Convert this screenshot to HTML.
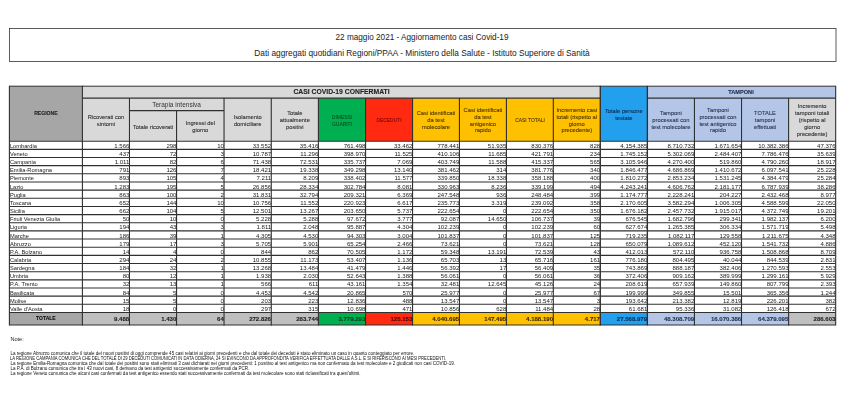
<!DOCTYPE html>
<html><head><meta charset="utf-8"><title>Aggiornamento casi Covid-19</title>
<style>
html,body{margin:0;padding:0;background:#fff;}
body{width:850px;height:413px;position:relative;overflow:hidden;font-family:"Liberation Sans",sans-serif;}
svg{position:absolute;left:0;top:0;}
.t{position:absolute;white-space:nowrap;line-height:1.15;}
.s{-webkit-text-stroke:0.1px currentColor;}
.s2{-webkit-text-stroke:0.07px currentColor;}
#wrap{position:absolute;left:0;top:0;width:850px;height:413px;filter:blur(0.35px);}
</style></head><body><div id="wrap">
<svg width="850" height="413" viewBox="0 0 850 413">
<rect x="9.4" y="28.5" width="826.6" height="32.9" fill="#fff" stroke="#333" stroke-width="0.8"/>
<rect x="9.40" y="86.20" width="73.00" height="55.00" fill="#a6a6a6"/>
<rect x="82.40" y="86.20" width="517.88" height="11.90" fill="#d9d9d9"/>
<rect x="82.40" y="98.10" width="236.00" height="43.10" fill="#d9d9d9"/>
<rect x="318.40" y="98.10" width="47.18" height="43.10" fill="#00b050"/>
<rect x="365.58" y="98.10" width="46.98" height="43.10" fill="#ff2a10"/>
<rect x="412.56" y="98.10" width="187.72" height="43.10" fill="#ffc000"/>
<rect x="600.28" y="86.20" width="47.08" height="55.00" fill="#22a0ed"/>
<rect x="647.36" y="86.20" width="188.32" height="11.90" fill="#b4c6e7"/>
<rect x="647.36" y="98.10" width="141.24" height="43.10" fill="#b4c6e7"/>
<rect x="788.60" y="98.10" width="47.08" height="43.10" fill="#d9d9d9"/>
<rect x="9.40" y="312.45" width="73.00" height="12.55" fill="#a6a6a6"/>
<rect x="82.40" y="312.45" width="236.00" height="12.55" fill="#bfbfbf"/>
<rect x="318.40" y="312.45" width="47.18" height="12.55" fill="#00b050"/>
<rect x="365.58" y="312.45" width="46.98" height="12.55" fill="#ff2a10"/>
<rect x="412.56" y="312.45" width="187.72" height="12.55" fill="#ffc000"/>
<rect x="600.28" y="312.45" width="47.08" height="12.55" fill="#22a0ed"/>
<rect x="647.36" y="312.45" width="141.24" height="12.55" fill="#b4c6e7"/>
<rect x="788.60" y="312.45" width="47.08" height="12.55" fill="#bfbfbf"/>
<line x1="9.40" y1="86.20" x2="835.68" y2="86.20" stroke="#303030" stroke-width="1.0"/>
<line x1="82.40" y1="98.10" x2="600.28" y2="98.10" stroke="#303030" stroke-width="1.05"/>
<line x1="647.36" y1="98.10" x2="835.68" y2="98.10" stroke="#303030" stroke-width="1.05"/>
<line x1="129.48" y1="110.60" x2="224.04" y2="110.60" stroke="#303030" stroke-width="1.05"/>
<line x1="9.40" y1="141.20" x2="835.68" y2="141.20" stroke="#303030" stroke-width="1.1"/>
<line x1="9.40" y1="149.35" x2="835.68" y2="149.35" stroke="#303030" stroke-width="1.1"/>
<line x1="9.40" y1="157.51" x2="835.68" y2="157.51" stroke="#303030" stroke-width="1.1"/>
<line x1="9.40" y1="165.66" x2="835.68" y2="165.66" stroke="#303030" stroke-width="1.1"/>
<line x1="9.40" y1="173.82" x2="835.68" y2="173.82" stroke="#303030" stroke-width="1.1"/>
<line x1="9.40" y1="181.97" x2="835.68" y2="181.97" stroke="#303030" stroke-width="1.1"/>
<line x1="9.40" y1="190.13" x2="835.68" y2="190.13" stroke="#303030" stroke-width="1.1"/>
<line x1="9.40" y1="198.28" x2="835.68" y2="198.28" stroke="#303030" stroke-width="1.1"/>
<line x1="9.40" y1="206.44" x2="835.68" y2="206.44" stroke="#303030" stroke-width="1.1"/>
<line x1="9.40" y1="214.59" x2="835.68" y2="214.59" stroke="#303030" stroke-width="1.1"/>
<line x1="9.40" y1="222.75" x2="835.68" y2="222.75" stroke="#303030" stroke-width="1.1"/>
<line x1="9.40" y1="230.90" x2="835.68" y2="230.90" stroke="#303030" stroke-width="1.1"/>
<line x1="9.40" y1="239.06" x2="835.68" y2="239.06" stroke="#303030" stroke-width="1.1"/>
<line x1="9.40" y1="247.21" x2="835.68" y2="247.21" stroke="#303030" stroke-width="1.1"/>
<line x1="9.40" y1="255.37" x2="835.68" y2="255.37" stroke="#303030" stroke-width="1.1"/>
<line x1="9.40" y1="263.52" x2="835.68" y2="263.52" stroke="#303030" stroke-width="1.1"/>
<line x1="9.40" y1="271.68" x2="835.68" y2="271.68" stroke="#303030" stroke-width="1.1"/>
<line x1="9.40" y1="279.83" x2="835.68" y2="279.83" stroke="#303030" stroke-width="1.1"/>
<line x1="9.40" y1="287.99" x2="835.68" y2="287.99" stroke="#303030" stroke-width="1.1"/>
<line x1="9.40" y1="296.14" x2="835.68" y2="296.14" stroke="#303030" stroke-width="1.1"/>
<line x1="9.40" y1="304.30" x2="835.68" y2="304.30" stroke="#303030" stroke-width="1.1"/>
<line x1="9.40" y1="312.45" x2="835.68" y2="312.45" stroke="#303030" stroke-width="1.1"/>
<line x1="9.40" y1="325.00" x2="835.68" y2="325.00" stroke="#303030" stroke-width="1.1"/>
<line x1="9.40" y1="85.80" x2="9.40" y2="325.40" stroke="#303030" stroke-width="1.1"/>
<line x1="82.40" y1="85.80" x2="82.40" y2="325.40" stroke="#303030" stroke-width="1.1"/>
<line x1="129.48" y1="98.10" x2="129.48" y2="325.40" stroke="#303030" stroke-width="1.1"/>
<line x1="176.56" y1="110.60" x2="176.56" y2="325.40" stroke="#303030" stroke-width="1.1"/>
<line x1="224.04" y1="98.10" x2="224.04" y2="325.40" stroke="#303030" stroke-width="1.1"/>
<line x1="271.27" y1="98.10" x2="271.27" y2="325.40" stroke="#303030" stroke-width="1.1"/>
<line x1="318.40" y1="98.10" x2="318.40" y2="325.40" stroke="#303030" stroke-width="1.1"/>
<line x1="365.58" y1="98.10" x2="365.58" y2="325.40" stroke="#303030" stroke-width="1.1"/>
<line x1="412.56" y1="98.10" x2="412.56" y2="325.40" stroke="#303030" stroke-width="1.1"/>
<line x1="459.44" y1="98.10" x2="459.44" y2="325.40" stroke="#303030" stroke-width="1.1"/>
<line x1="506.42" y1="98.10" x2="506.42" y2="325.40" stroke="#303030" stroke-width="1.1"/>
<line x1="553.30" y1="98.10" x2="553.30" y2="325.40" stroke="#303030" stroke-width="1.1"/>
<line x1="600.28" y1="85.80" x2="600.28" y2="325.40" stroke="#303030" stroke-width="1.35"/>
<line x1="647.36" y1="85.80" x2="647.36" y2="325.40" stroke="#303030" stroke-width="1.35"/>
<line x1="694.44" y1="98.10" x2="694.44" y2="325.40" stroke="#303030" stroke-width="1.1"/>
<line x1="741.52" y1="98.10" x2="741.52" y2="325.40" stroke="#303030" stroke-width="1.1"/>
<line x1="788.60" y1="98.10" x2="788.60" y2="325.40" stroke="#303030" stroke-width="1.1"/>
<line x1="835.68" y1="85.80" x2="835.68" y2="325.40" stroke="#303030" stroke-width="1.1"/>
</svg>
<div class="t " style="color:#222;font-size:8.2px;left:422.00px;top:38.40px;transform:translate(-50%,-50%);text-align:center;">22 maggio 2021 - Aggiornamento casi Covid-19</div>
<div class="t " style="color:#222;font-size:8.32px;left:422.00px;top:54.40px;transform:translate(-50%,-50%);text-align:center;">Dati aggregati quotidiani Regioni/PPAA - Ministero della Salute - Istituto Superiore di Sanit&agrave;</div>
<div class="t s" style="color:#222;font-weight:bold;font-size:5.1px;left:45.90px;top:113.60px;transform:translate(-50%,-50%);text-align:center;">REGIONE</div>
<div class="t s" style="color:#222;font-weight:bold;font-size:6.8px;left:341.50px;top:92.20px;transform:translate(-50%,-50%);text-align:center;">CASI COVID-19 CONFERMATI</div>
<div class="t s" style="color:#1f2a44;font-weight:bold;font-size:5.6px;left:741.00px;top:92.20px;transform:translate(-50%,-50%);text-align:center;">TAMPONI</div>
<div class="t " style="color:#333;font-size:6.5px;left:176.56px;top:105.20px;transform:translate(-50%,-50%);text-align:center;">Terapia intensiva</div>
<div class="t s" style="color:#2e2e2e;line-height:7.0px;font-size:5.75px;left:105.94px;top:121.05px;transform:translate(-50%,-50%);text-align:center;">Ricoverati con<br>sintomi</div>
<div class="t s" style="color:#2e2e2e;line-height:7.0px;font-size:5.75px;left:153.02px;top:126.60px;transform:translate(-50%,-50%);text-align:center;">Totale ricoverati</div>
<div class="t s" style="color:#2e2e2e;line-height:7.0px;font-size:5.75px;left:200.30px;top:127.30px;transform:translate(-50%,-50%);text-align:center;">Ingressi del<br>giorno</div>
<div class="t s" style="color:#2e2e2e;line-height:7.0px;font-size:5.75px;left:247.66px;top:121.05px;transform:translate(-50%,-50%);text-align:center;">Isolamento<br>domiciliare</div>
<div class="t s" style="color:#2e2e2e;line-height:7.05px;font-size:5.75px;left:294.84px;top:121.05px;transform:translate(-50%,-50%);text-align:center;">Totale<br>attualmente<br>positivi</div>
<div class="t s" style="color:#0a4f1c;line-height:7.0px;font-size:5.6px;left:341.99px;top:121.05px;transform:translate(-50%,-50%) scaleX(0.88);text-align:center;">DIMESSI<br>GUARITI</div>
<div class="t s" style="color:#7d0606;line-height:7.0px;font-size:5.6px;left:389.07px;top:120.35px;transform:translate(-50%,-50%) scaleX(0.88);text-align:center;">DECEDUTI</div>
<div class="t s" style="color:#4d3600;line-height:7.05px;font-size:5.75px;left:436.00px;top:121.05px;transform:translate(-50%,-50%);text-align:center;">Casi identificati<br>da test<br>molecolare</div>
<div class="t s" style="color:#4d3600;line-height:6.6px;font-size:5.75px;left:482.93px;top:120.35px;transform:translate(-50%,-50%);text-align:center;">Casi identificati<br>da test<br>antigenico<br>rapido</div>
<div class="t s" style="color:#4d3600;line-height:7.0px;font-size:5.6px;left:529.86px;top:120.35px;transform:translate(-50%,-50%) scaleX(0.88);text-align:center;">CASI TOTALI</div>
<div class="t s" style="color:#4d3600;line-height:6.6px;font-size:5.75px;left:576.79px;top:120.35px;transform:translate(-50%,-50%);text-align:center;">Incremento casi<br>totali (rispetto al<br>giorno<br>precedente)</div>
<div class="t s" style="color:#0b2a55;line-height:7.0px;font-size:5.75px;left:623.82px;top:114.50px;transform:translate(-50%,-50%);text-align:center;">Totale persone<br>testate</div>
<div class="t s" style="color:#2a3350;line-height:7.05px;font-size:5.75px;left:670.90px;top:121.05px;transform:translate(-50%,-50%);text-align:center;">Tamponi<br>processati con<br>test molecolare</div>
<div class="t s" style="color:#2a3350;line-height:6.6px;font-size:5.75px;left:717.98px;top:120.35px;transform:translate(-50%,-50%);text-align:center;">Tamponi<br>processati con<br>test antigenico<br>rapido</div>
<div class="t s" style="color:#2a3350;line-height:7.05px;font-size:5.75px;left:765.06px;top:121.05px;transform:translate(-50%,-50%);text-align:center;">TOTALE<br>tamponi<br>effettuati</div>
<div class="t s" style="color:#2e2e2e;line-height:6.8px;font-size:5.75px;left:812.14px;top:120.35px;transform:translate(-50%,-50%);text-align:center;">Incremento<br>tamponi totali<br>(rispetto al<br>giorno<br>precedente)</div>
<div class="t " style="color:#222;font-size:5.7px;left:9.95px;top:145.83px;transform:translate(0,-50%);text-align:left;">Lombardia</div>
<div class="t " style="color:#222;font-size:6.05px;right:720.62px;top:145.83px;transform:translate(0,-50%);text-align:right;">1.566</div>
<div class="t " style="color:#222;font-size:6.05px;right:673.54px;top:145.83px;transform:translate(0,-50%);text-align:right;">298</div>
<div class="t " style="color:#222;font-size:6.05px;right:626.06px;top:145.83px;transform:translate(0,-50%);text-align:right;">10</div>
<div class="t " style="color:#222;font-size:6.05px;right:578.83px;top:145.83px;transform:translate(0,-50%);text-align:right;">33.552</div>
<div class="t " style="color:#222;font-size:6.05px;right:531.70px;top:145.83px;transform:translate(0,-50%);text-align:right;">35.416</div>
<div class="t " style="color:#222;font-size:6.05px;right:484.52px;top:145.83px;transform:translate(0,-50%);text-align:right;">761.498</div>
<div class="t " style="color:#222;font-size:6.05px;right:437.54px;top:145.83px;transform:translate(0,-50%);text-align:right;">33.462</div>
<div class="t " style="color:#222;font-size:6.05px;right:390.66px;top:145.83px;transform:translate(0,-50%);text-align:right;">778.441</div>
<div class="t " style="color:#222;font-size:6.05px;right:343.68px;top:145.83px;transform:translate(0,-50%);text-align:right;">51.935</div>
<div class="t " style="color:#222;font-size:6.05px;right:296.80px;top:145.83px;transform:translate(0,-50%);text-align:right;">830.376</div>
<div class="t " style="color:#222;font-size:6.05px;right:249.82px;top:145.83px;transform:translate(0,-50%);text-align:right;">828</div>
<div class="t " style="color:#222;font-size:6.05px;right:202.74px;top:145.83px;transform:translate(0,-50%);text-align:right;">4.154.385</div>
<div class="t " style="color:#222;font-size:6.05px;right:155.66px;top:145.83px;transform:translate(0,-50%);text-align:right;">8.710.732</div>
<div class="t " style="color:#222;font-size:6.05px;right:108.58px;top:145.83px;transform:translate(0,-50%);text-align:right;">1.671.654</div>
<div class="t " style="color:#222;font-size:6.05px;right:61.50px;top:145.83px;transform:translate(0,-50%);text-align:right;">10.382.386</div>
<div class="t " style="color:#222;font-size:6.05px;right:14.42px;top:145.83px;transform:translate(0,-50%);text-align:right;">47.376</div>
<div class="t " style="color:#222;font-size:5.7px;left:9.95px;top:153.98px;transform:translate(0,-50%);text-align:left;">Veneto</div>
<div class="t " style="color:#222;font-size:6.05px;right:720.62px;top:153.98px;transform:translate(0,-50%);text-align:right;">437</div>
<div class="t " style="color:#222;font-size:6.05px;right:673.54px;top:153.98px;transform:translate(0,-50%);text-align:right;">72</div>
<div class="t " style="color:#222;font-size:6.05px;right:626.06px;top:153.98px;transform:translate(0,-50%);text-align:right;">3</div>
<div class="t " style="color:#222;font-size:6.05px;right:578.83px;top:153.98px;transform:translate(0,-50%);text-align:right;">10.787</div>
<div class="t " style="color:#222;font-size:6.05px;right:531.70px;top:153.98px;transform:translate(0,-50%);text-align:right;">11.296</div>
<div class="t " style="color:#222;font-size:6.05px;right:484.52px;top:153.98px;transform:translate(0,-50%);text-align:right;">398.970</div>
<div class="t " style="color:#222;font-size:6.05px;right:437.54px;top:153.98px;transform:translate(0,-50%);text-align:right;">11.525</div>
<div class="t " style="color:#222;font-size:6.05px;right:390.66px;top:153.98px;transform:translate(0,-50%);text-align:right;">410.106</div>
<div class="t " style="color:#222;font-size:6.05px;right:343.68px;top:153.98px;transform:translate(0,-50%);text-align:right;">11.685</div>
<div class="t " style="color:#222;font-size:6.05px;right:296.80px;top:153.98px;transform:translate(0,-50%);text-align:right;">421.791</div>
<div class="t " style="color:#222;font-size:6.05px;right:249.82px;top:153.98px;transform:translate(0,-50%);text-align:right;">234</div>
<div class="t " style="color:#222;font-size:6.05px;right:202.74px;top:153.98px;transform:translate(0,-50%);text-align:right;">1.745.152</div>
<div class="t " style="color:#222;font-size:6.05px;right:155.66px;top:153.98px;transform:translate(0,-50%);text-align:right;">5.302.069</div>
<div class="t " style="color:#222;font-size:6.05px;right:108.58px;top:153.98px;transform:translate(0,-50%);text-align:right;">2.484.407</div>
<div class="t " style="color:#222;font-size:6.05px;right:61.50px;top:153.98px;transform:translate(0,-50%);text-align:right;">7.786.476</div>
<div class="t " style="color:#222;font-size:6.05px;right:14.42px;top:153.98px;transform:translate(0,-50%);text-align:right;">35.639</div>
<div class="t " style="color:#222;font-size:5.7px;left:9.95px;top:162.14px;transform:translate(0,-50%);text-align:left;">Campania</div>
<div class="t " style="color:#222;font-size:6.05px;right:720.62px;top:162.14px;transform:translate(0,-50%);text-align:right;">1.011</div>
<div class="t " style="color:#222;font-size:6.05px;right:673.54px;top:162.14px;transform:translate(0,-50%);text-align:right;">82</div>
<div class="t " style="color:#222;font-size:6.05px;right:626.06px;top:162.14px;transform:translate(0,-50%);text-align:right;">6</div>
<div class="t " style="color:#222;font-size:6.05px;right:578.83px;top:162.14px;transform:translate(0,-50%);text-align:right;">71.438</div>
<div class="t " style="color:#222;font-size:6.05px;right:531.70px;top:162.14px;transform:translate(0,-50%);text-align:right;">72.531</div>
<div class="t " style="color:#222;font-size:6.05px;right:484.52px;top:162.14px;transform:translate(0,-50%);text-align:right;">335.737</div>
<div class="t " style="color:#222;font-size:6.05px;right:437.54px;top:162.14px;transform:translate(0,-50%);text-align:right;">7.069</div>
<div class="t " style="color:#222;font-size:6.05px;right:390.66px;top:162.14px;transform:translate(0,-50%);text-align:right;">403.749</div>
<div class="t " style="color:#222;font-size:6.05px;right:343.68px;top:162.14px;transform:translate(0,-50%);text-align:right;">11.588</div>
<div class="t " style="color:#222;font-size:6.05px;right:296.80px;top:162.14px;transform:translate(0,-50%);text-align:right;">415.337</div>
<div class="t " style="color:#222;font-size:6.05px;right:249.82px;top:162.14px;transform:translate(0,-50%);text-align:right;">565</div>
<div class="t " style="color:#222;font-size:6.05px;right:202.74px;top:162.14px;transform:translate(0,-50%);text-align:right;">3.105.946</div>
<div class="t " style="color:#222;font-size:6.05px;right:155.66px;top:162.14px;transform:translate(0,-50%);text-align:right;">4.270.400</div>
<div class="t " style="color:#222;font-size:6.05px;right:108.58px;top:162.14px;transform:translate(0,-50%);text-align:right;">519.860</div>
<div class="t " style="color:#222;font-size:6.05px;right:61.50px;top:162.14px;transform:translate(0,-50%);text-align:right;">4.790.260</div>
<div class="t " style="color:#222;font-size:6.05px;right:14.42px;top:162.14px;transform:translate(0,-50%);text-align:right;">18.917</div>
<div class="t " style="color:#222;font-size:5.7px;left:9.95px;top:170.29px;transform:translate(0,-50%);text-align:left;">Emilia-Romagna</div>
<div class="t " style="color:#222;font-size:6.05px;right:720.62px;top:170.29px;transform:translate(0,-50%);text-align:right;">791</div>
<div class="t " style="color:#222;font-size:6.05px;right:673.54px;top:170.29px;transform:translate(0,-50%);text-align:right;">126</div>
<div class="t " style="color:#222;font-size:6.05px;right:626.06px;top:170.29px;transform:translate(0,-50%);text-align:right;">7</div>
<div class="t " style="color:#222;font-size:6.05px;right:578.83px;top:170.29px;transform:translate(0,-50%);text-align:right;">18.421</div>
<div class="t " style="color:#222;font-size:6.05px;right:531.70px;top:170.29px;transform:translate(0,-50%);text-align:right;">19.338</div>
<div class="t " style="color:#222;font-size:6.05px;right:484.52px;top:170.29px;transform:translate(0,-50%);text-align:right;">349.298</div>
<div class="t " style="color:#222;font-size:6.05px;right:437.54px;top:170.29px;transform:translate(0,-50%);text-align:right;">13.140</div>
<div class="t " style="color:#222;font-size:6.05px;right:390.66px;top:170.29px;transform:translate(0,-50%);text-align:right;">381.462</div>
<div class="t " style="color:#222;font-size:6.05px;right:343.68px;top:170.29px;transform:translate(0,-50%);text-align:right;">314</div>
<div class="t " style="color:#222;font-size:6.05px;right:296.80px;top:170.29px;transform:translate(0,-50%);text-align:right;">381.776</div>
<div class="t " style="color:#222;font-size:6.05px;right:249.82px;top:170.29px;transform:translate(0,-50%);text-align:right;">340</div>
<div class="t " style="color:#222;font-size:6.05px;right:202.74px;top:170.29px;transform:translate(0,-50%);text-align:right;">1.846.477</div>
<div class="t " style="color:#222;font-size:6.05px;right:155.66px;top:170.29px;transform:translate(0,-50%);text-align:right;">4.686.869</div>
<div class="t " style="color:#222;font-size:6.05px;right:108.58px;top:170.29px;transform:translate(0,-50%);text-align:right;">1.410.672</div>
<div class="t " style="color:#222;font-size:6.05px;right:61.50px;top:170.29px;transform:translate(0,-50%);text-align:right;">6.097.541</div>
<div class="t " style="color:#222;font-size:6.05px;right:14.42px;top:170.29px;transform:translate(0,-50%);text-align:right;">25.228</div>
<div class="t " style="color:#222;font-size:5.7px;left:9.95px;top:178.45px;transform:translate(0,-50%);text-align:left;">Piemonte</div>
<div class="t " style="color:#222;font-size:6.05px;right:720.62px;top:178.45px;transform:translate(0,-50%);text-align:right;">893</div>
<div class="t " style="color:#222;font-size:6.05px;right:673.54px;top:178.45px;transform:translate(0,-50%);text-align:right;">105</div>
<div class="t " style="color:#222;font-size:6.05px;right:626.06px;top:178.45px;transform:translate(0,-50%);text-align:right;">4</div>
<div class="t " style="color:#222;font-size:6.05px;right:578.83px;top:178.45px;transform:translate(0,-50%);text-align:right;">7.211</div>
<div class="t " style="color:#222;font-size:6.05px;right:531.70px;top:178.45px;transform:translate(0,-50%);text-align:right;">8.209</div>
<div class="t " style="color:#222;font-size:6.05px;right:484.52px;top:178.45px;transform:translate(0,-50%);text-align:right;">338.402</div>
<div class="t " style="color:#222;font-size:6.05px;right:437.54px;top:178.45px;transform:translate(0,-50%);text-align:right;">11.577</div>
<div class="t " style="color:#222;font-size:6.05px;right:390.66px;top:178.45px;transform:translate(0,-50%);text-align:right;">339.850</div>
<div class="t " style="color:#222;font-size:6.05px;right:343.68px;top:178.45px;transform:translate(0,-50%);text-align:right;">18.338</div>
<div class="t " style="color:#222;font-size:6.05px;right:296.80px;top:178.45px;transform:translate(0,-50%);text-align:right;">358.188</div>
<div class="t " style="color:#222;font-size:6.05px;right:249.82px;top:178.45px;transform:translate(0,-50%);text-align:right;">400</div>
<div class="t " style="color:#222;font-size:6.05px;right:202.74px;top:178.45px;transform:translate(0,-50%);text-align:right;">1.810.272</div>
<div class="t " style="color:#222;font-size:6.05px;right:155.66px;top:178.45px;transform:translate(0,-50%);text-align:right;">2.853.234</div>
<div class="t " style="color:#222;font-size:6.05px;right:108.58px;top:178.45px;transform:translate(0,-50%);text-align:right;">1.531.245</div>
<div class="t " style="color:#222;font-size:6.05px;right:61.50px;top:178.45px;transform:translate(0,-50%);text-align:right;">4.384.479</div>
<div class="t " style="color:#222;font-size:6.05px;right:14.42px;top:178.45px;transform:translate(0,-50%);text-align:right;">25.284</div>
<div class="t " style="color:#222;font-size:5.7px;left:9.95px;top:186.60px;transform:translate(0,-50%);text-align:left;">Lazio</div>
<div class="t " style="color:#222;font-size:6.05px;right:720.62px;top:186.60px;transform:translate(0,-50%);text-align:right;">1.283</div>
<div class="t " style="color:#222;font-size:6.05px;right:673.54px;top:186.60px;transform:translate(0,-50%);text-align:right;">195</div>
<div class="t " style="color:#222;font-size:6.05px;right:626.06px;top:186.60px;transform:translate(0,-50%);text-align:right;">5</div>
<div class="t " style="color:#222;font-size:6.05px;right:578.83px;top:186.60px;transform:translate(0,-50%);text-align:right;">26.856</div>
<div class="t " style="color:#222;font-size:6.05px;right:531.70px;top:186.60px;transform:translate(0,-50%);text-align:right;">28.334</div>
<div class="t " style="color:#222;font-size:6.05px;right:484.52px;top:186.60px;transform:translate(0,-50%);text-align:right;">302.784</div>
<div class="t " style="color:#222;font-size:6.05px;right:437.54px;top:186.60px;transform:translate(0,-50%);text-align:right;">8.081</div>
<div class="t " style="color:#222;font-size:6.05px;right:390.66px;top:186.60px;transform:translate(0,-50%);text-align:right;">330.963</div>
<div class="t " style="color:#222;font-size:6.05px;right:343.68px;top:186.60px;transform:translate(0,-50%);text-align:right;">8.236</div>
<div class="t " style="color:#222;font-size:6.05px;right:296.80px;top:186.60px;transform:translate(0,-50%);text-align:right;">339.199</div>
<div class="t " style="color:#222;font-size:6.05px;right:249.82px;top:186.60px;transform:translate(0,-50%);text-align:right;">494</div>
<div class="t " style="color:#222;font-size:6.05px;right:202.74px;top:186.60px;transform:translate(0,-50%);text-align:right;">4.243.241</div>
<div class="t " style="color:#222;font-size:6.05px;right:155.66px;top:186.60px;transform:translate(0,-50%);text-align:right;">4.606.762</div>
<div class="t " style="color:#222;font-size:6.05px;right:108.58px;top:186.60px;transform:translate(0,-50%);text-align:right;">2.181.177</div>
<div class="t " style="color:#222;font-size:6.05px;right:61.50px;top:186.60px;transform:translate(0,-50%);text-align:right;">6.787.939</div>
<div class="t " style="color:#222;font-size:6.05px;right:14.42px;top:186.60px;transform:translate(0,-50%);text-align:right;">38.286</div>
<div class="t " style="color:#222;font-size:5.7px;left:9.95px;top:194.76px;transform:translate(0,-50%);text-align:left;">Puglia</div>
<div class="t " style="color:#222;font-size:6.05px;right:720.62px;top:194.76px;transform:translate(0,-50%);text-align:right;">863</div>
<div class="t " style="color:#222;font-size:6.05px;right:673.54px;top:194.76px;transform:translate(0,-50%);text-align:right;">100</div>
<div class="t " style="color:#222;font-size:6.05px;right:626.06px;top:194.76px;transform:translate(0,-50%);text-align:right;">2</div>
<div class="t " style="color:#222;font-size:6.05px;right:578.83px;top:194.76px;transform:translate(0,-50%);text-align:right;">31.831</div>
<div class="t " style="color:#222;font-size:6.05px;right:531.70px;top:194.76px;transform:translate(0,-50%);text-align:right;">32.794</div>
<div class="t " style="color:#222;font-size:6.05px;right:484.52px;top:194.76px;transform:translate(0,-50%);text-align:right;">209.321</div>
<div class="t " style="color:#222;font-size:6.05px;right:437.54px;top:194.76px;transform:translate(0,-50%);text-align:right;">6.369</div>
<div class="t " style="color:#222;font-size:6.05px;right:390.66px;top:194.76px;transform:translate(0,-50%);text-align:right;">247.548</div>
<div class="t " style="color:#222;font-size:6.05px;right:343.68px;top:194.76px;transform:translate(0,-50%);text-align:right;">936</div>
<div class="t " style="color:#222;font-size:6.05px;right:296.80px;top:194.76px;transform:translate(0,-50%);text-align:right;">248.484</div>
<div class="t " style="color:#222;font-size:6.05px;right:249.82px;top:194.76px;transform:translate(0,-50%);text-align:right;">399</div>
<div class="t " style="color:#222;font-size:6.05px;right:202.74px;top:194.76px;transform:translate(0,-50%);text-align:right;">1.174.777</div>
<div class="t " style="color:#222;font-size:6.05px;right:155.66px;top:194.76px;transform:translate(0,-50%);text-align:right;">2.228.241</div>
<div class="t " style="color:#222;font-size:6.05px;right:108.58px;top:194.76px;transform:translate(0,-50%);text-align:right;">204.227</div>
<div class="t " style="color:#222;font-size:6.05px;right:61.50px;top:194.76px;transform:translate(0,-50%);text-align:right;">2.432.468</div>
<div class="t " style="color:#222;font-size:6.05px;right:14.42px;top:194.76px;transform:translate(0,-50%);text-align:right;">8.977</div>
<div class="t " style="color:#222;font-size:5.7px;left:9.95px;top:202.91px;transform:translate(0,-50%);text-align:left;">Toscana</div>
<div class="t " style="color:#222;font-size:6.05px;right:720.62px;top:202.91px;transform:translate(0,-50%);text-align:right;">652</div>
<div class="t " style="color:#222;font-size:6.05px;right:673.54px;top:202.91px;transform:translate(0,-50%);text-align:right;">144</div>
<div class="t " style="color:#222;font-size:6.05px;right:626.06px;top:202.91px;transform:translate(0,-50%);text-align:right;">10</div>
<div class="t " style="color:#222;font-size:6.05px;right:578.83px;top:202.91px;transform:translate(0,-50%);text-align:right;">10.756</div>
<div class="t " style="color:#222;font-size:6.05px;right:531.70px;top:202.91px;transform:translate(0,-50%);text-align:right;">11.552</div>
<div class="t " style="color:#222;font-size:6.05px;right:484.52px;top:202.91px;transform:translate(0,-50%);text-align:right;">220.923</div>
<div class="t " style="color:#222;font-size:6.05px;right:437.54px;top:202.91px;transform:translate(0,-50%);text-align:right;">6.617</div>
<div class="t " style="color:#222;font-size:6.05px;right:390.66px;top:202.91px;transform:translate(0,-50%);text-align:right;">235.773</div>
<div class="t " style="color:#222;font-size:6.05px;right:343.68px;top:202.91px;transform:translate(0,-50%);text-align:right;">3.319</div>
<div class="t " style="color:#222;font-size:6.05px;right:296.80px;top:202.91px;transform:translate(0,-50%);text-align:right;">239.092</div>
<div class="t " style="color:#222;font-size:6.05px;right:249.82px;top:202.91px;transform:translate(0,-50%);text-align:right;">358</div>
<div class="t " style="color:#222;font-size:6.05px;right:202.74px;top:202.91px;transform:translate(0,-50%);text-align:right;">2.170.605</div>
<div class="t " style="color:#222;font-size:6.05px;right:155.66px;top:202.91px;transform:translate(0,-50%);text-align:right;">3.582.294</div>
<div class="t " style="color:#222;font-size:6.05px;right:108.58px;top:202.91px;transform:translate(0,-50%);text-align:right;">1.006.305</div>
<div class="t " style="color:#222;font-size:6.05px;right:61.50px;top:202.91px;transform:translate(0,-50%);text-align:right;">4.588.599</div>
<div class="t " style="color:#222;font-size:6.05px;right:14.42px;top:202.91px;transform:translate(0,-50%);text-align:right;">22.050</div>
<div class="t " style="color:#222;font-size:5.7px;left:9.95px;top:211.07px;transform:translate(0,-50%);text-align:left;">Sicilia</div>
<div class="t " style="color:#222;font-size:6.05px;right:720.62px;top:211.07px;transform:translate(0,-50%);text-align:right;">662</div>
<div class="t " style="color:#222;font-size:6.05px;right:673.54px;top:211.07px;transform:translate(0,-50%);text-align:right;">104</div>
<div class="t " style="color:#222;font-size:6.05px;right:626.06px;top:211.07px;transform:translate(0,-50%);text-align:right;">5</div>
<div class="t " style="color:#222;font-size:6.05px;right:578.83px;top:211.07px;transform:translate(0,-50%);text-align:right;">12.501</div>
<div class="t " style="color:#222;font-size:6.05px;right:531.70px;top:211.07px;transform:translate(0,-50%);text-align:right;">13.267</div>
<div class="t " style="color:#222;font-size:6.05px;right:484.52px;top:211.07px;transform:translate(0,-50%);text-align:right;">203.650</div>
<div class="t " style="color:#222;font-size:6.05px;right:437.54px;top:211.07px;transform:translate(0,-50%);text-align:right;">5.737</div>
<div class="t " style="color:#222;font-size:6.05px;right:390.66px;top:211.07px;transform:translate(0,-50%);text-align:right;">222.654</div>
<div class="t " style="color:#222;font-size:6.05px;right:343.68px;top:211.07px;transform:translate(0,-50%);text-align:right;">0</div>
<div class="t " style="color:#222;font-size:6.05px;right:296.80px;top:211.07px;transform:translate(0,-50%);text-align:right;">222.654</div>
<div class="t " style="color:#222;font-size:6.05px;right:249.82px;top:211.07px;transform:translate(0,-50%);text-align:right;">350</div>
<div class="t " style="color:#222;font-size:6.05px;right:202.74px;top:211.07px;transform:translate(0,-50%);text-align:right;">1.676.182</div>
<div class="t " style="color:#222;font-size:6.05px;right:155.66px;top:211.07px;transform:translate(0,-50%);text-align:right;">2.457.732</div>
<div class="t " style="color:#222;font-size:6.05px;right:108.58px;top:211.07px;transform:translate(0,-50%);text-align:right;">1.915.017</div>
<div class="t " style="color:#222;font-size:6.05px;right:61.50px;top:211.07px;transform:translate(0,-50%);text-align:right;">4.372.749</div>
<div class="t " style="color:#222;font-size:6.05px;right:14.42px;top:211.07px;transform:translate(0,-50%);text-align:right;">19.201</div>
<div class="t " style="color:#222;font-size:5.7px;left:9.95px;top:219.22px;transform:translate(0,-50%);text-align:left;">Friuli Venezia Giulia</div>
<div class="t " style="color:#222;font-size:6.05px;right:720.62px;top:219.22px;transform:translate(0,-50%);text-align:right;">50</div>
<div class="t " style="color:#222;font-size:6.05px;right:673.54px;top:219.22px;transform:translate(0,-50%);text-align:right;">10</div>
<div class="t " style="color:#222;font-size:6.05px;right:626.06px;top:219.22px;transform:translate(0,-50%);text-align:right;">0</div>
<div class="t " style="color:#222;font-size:6.05px;right:578.83px;top:219.22px;transform:translate(0,-50%);text-align:right;">5.228</div>
<div class="t " style="color:#222;font-size:6.05px;right:531.70px;top:219.22px;transform:translate(0,-50%);text-align:right;">5.288</div>
<div class="t " style="color:#222;font-size:6.05px;right:484.52px;top:219.22px;transform:translate(0,-50%);text-align:right;">97.672</div>
<div class="t " style="color:#222;font-size:6.05px;right:437.54px;top:219.22px;transform:translate(0,-50%);text-align:right;">3.777</div>
<div class="t " style="color:#222;font-size:6.05px;right:390.66px;top:219.22px;transform:translate(0,-50%);text-align:right;">92.087</div>
<div class="t " style="color:#222;font-size:6.05px;right:343.68px;top:219.22px;transform:translate(0,-50%);text-align:right;">14.650</div>
<div class="t " style="color:#222;font-size:6.05px;right:296.80px;top:219.22px;transform:translate(0,-50%);text-align:right;">106.737</div>
<div class="t " style="color:#222;font-size:6.05px;right:249.82px;top:219.22px;transform:translate(0,-50%);text-align:right;">39</div>
<div class="t " style="color:#222;font-size:6.05px;right:202.74px;top:219.22px;transform:translate(0,-50%);text-align:right;">676.545</div>
<div class="t " style="color:#222;font-size:6.05px;right:155.66px;top:219.22px;transform:translate(0,-50%);text-align:right;">1.682.796</div>
<div class="t " style="color:#222;font-size:6.05px;right:108.58px;top:219.22px;transform:translate(0,-50%);text-align:right;">299.341</div>
<div class="t " style="color:#222;font-size:6.05px;right:61.50px;top:219.22px;transform:translate(0,-50%);text-align:right;">1.982.137</div>
<div class="t " style="color:#222;font-size:6.05px;right:14.42px;top:219.22px;transform:translate(0,-50%);text-align:right;">6.200</div>
<div class="t " style="color:#222;font-size:5.7px;left:9.95px;top:227.38px;transform:translate(0,-50%);text-align:left;">Liguria</div>
<div class="t " style="color:#222;font-size:6.05px;right:720.62px;top:227.38px;transform:translate(0,-50%);text-align:right;">194</div>
<div class="t " style="color:#222;font-size:6.05px;right:673.54px;top:227.38px;transform:translate(0,-50%);text-align:right;">43</div>
<div class="t " style="color:#222;font-size:6.05px;right:626.06px;top:227.38px;transform:translate(0,-50%);text-align:right;">3</div>
<div class="t " style="color:#222;font-size:6.05px;right:578.83px;top:227.38px;transform:translate(0,-50%);text-align:right;">1.811</div>
<div class="t " style="color:#222;font-size:6.05px;right:531.70px;top:227.38px;transform:translate(0,-50%);text-align:right;">2.048</div>
<div class="t " style="color:#222;font-size:6.05px;right:484.52px;top:227.38px;transform:translate(0,-50%);text-align:right;">95.887</div>
<div class="t " style="color:#222;font-size:6.05px;right:437.54px;top:227.38px;transform:translate(0,-50%);text-align:right;">4.304</div>
<div class="t " style="color:#222;font-size:6.05px;right:390.66px;top:227.38px;transform:translate(0,-50%);text-align:right;">102.239</div>
<div class="t " style="color:#222;font-size:6.05px;right:343.68px;top:227.38px;transform:translate(0,-50%);text-align:right;">0</div>
<div class="t " style="color:#222;font-size:6.05px;right:296.80px;top:227.38px;transform:translate(0,-50%);text-align:right;">102.239</div>
<div class="t " style="color:#222;font-size:6.05px;right:249.82px;top:227.38px;transform:translate(0,-50%);text-align:right;">60</div>
<div class="t " style="color:#222;font-size:6.05px;right:202.74px;top:227.38px;transform:translate(0,-50%);text-align:right;">627.674</div>
<div class="t " style="color:#222;font-size:6.05px;right:155.66px;top:227.38px;transform:translate(0,-50%);text-align:right;">1.265.385</div>
<div class="t " style="color:#222;font-size:6.05px;right:108.58px;top:227.38px;transform:translate(0,-50%);text-align:right;">306.334</div>
<div class="t " style="color:#222;font-size:6.05px;right:61.50px;top:227.38px;transform:translate(0,-50%);text-align:right;">1.571.719</div>
<div class="t " style="color:#222;font-size:6.05px;right:14.42px;top:227.38px;transform:translate(0,-50%);text-align:right;">5.498</div>
<div class="t " style="color:#222;font-size:5.7px;left:9.95px;top:235.53px;transform:translate(0,-50%);text-align:left;">Marche</div>
<div class="t " style="color:#222;font-size:6.05px;right:720.62px;top:235.53px;transform:translate(0,-50%);text-align:right;">186</div>
<div class="t " style="color:#222;font-size:6.05px;right:673.54px;top:235.53px;transform:translate(0,-50%);text-align:right;">39</div>
<div class="t " style="color:#222;font-size:6.05px;right:626.06px;top:235.53px;transform:translate(0,-50%);text-align:right;">1</div>
<div class="t " style="color:#222;font-size:6.05px;right:578.83px;top:235.53px;transform:translate(0,-50%);text-align:right;">4.305</div>
<div class="t " style="color:#222;font-size:6.05px;right:531.70px;top:235.53px;transform:translate(0,-50%);text-align:right;">4.530</div>
<div class="t " style="color:#222;font-size:6.05px;right:484.52px;top:235.53px;transform:translate(0,-50%);text-align:right;">94.303</div>
<div class="t " style="color:#222;font-size:6.05px;right:437.54px;top:235.53px;transform:translate(0,-50%);text-align:right;">3.004</div>
<div class="t " style="color:#222;font-size:6.05px;right:390.66px;top:235.53px;transform:translate(0,-50%);text-align:right;">101.837</div>
<div class="t " style="color:#222;font-size:6.05px;right:343.68px;top:235.53px;transform:translate(0,-50%);text-align:right;">0</div>
<div class="t " style="color:#222;font-size:6.05px;right:296.80px;top:235.53px;transform:translate(0,-50%);text-align:right;">101.837</div>
<div class="t " style="color:#222;font-size:6.05px;right:249.82px;top:235.53px;transform:translate(0,-50%);text-align:right;">125</div>
<div class="t " style="color:#222;font-size:6.05px;right:202.74px;top:235.53px;transform:translate(0,-50%);text-align:right;">719.235</div>
<div class="t " style="color:#222;font-size:6.05px;right:155.66px;top:235.53px;transform:translate(0,-50%);text-align:right;">1.082.117</div>
<div class="t " style="color:#222;font-size:6.05px;right:108.58px;top:235.53px;transform:translate(0,-50%);text-align:right;">129.558</div>
<div class="t " style="color:#222;font-size:6.05px;right:61.50px;top:235.53px;transform:translate(0,-50%);text-align:right;">1.211.675</div>
<div class="t " style="color:#222;font-size:6.05px;right:14.42px;top:235.53px;transform:translate(0,-50%);text-align:right;">4.348</div>
<div class="t " style="color:#222;font-size:5.7px;left:9.95px;top:243.68px;transform:translate(0,-50%);text-align:left;">Abruzzo</div>
<div class="t " style="color:#222;font-size:6.05px;right:720.62px;top:243.68px;transform:translate(0,-50%);text-align:right;">179</div>
<div class="t " style="color:#222;font-size:6.05px;right:673.54px;top:243.68px;transform:translate(0,-50%);text-align:right;">17</div>
<div class="t " style="color:#222;font-size:6.05px;right:626.06px;top:243.68px;transform:translate(0,-50%);text-align:right;">3</div>
<div class="t " style="color:#222;font-size:6.05px;right:578.83px;top:243.68px;transform:translate(0,-50%);text-align:right;">5.705</div>
<div class="t " style="color:#222;font-size:6.05px;right:531.70px;top:243.68px;transform:translate(0,-50%);text-align:right;">5.901</div>
<div class="t " style="color:#222;font-size:6.05px;right:484.52px;top:243.68px;transform:translate(0,-50%);text-align:right;">65.254</div>
<div class="t " style="color:#222;font-size:6.05px;right:437.54px;top:243.68px;transform:translate(0,-50%);text-align:right;">2.466</div>
<div class="t " style="color:#222;font-size:6.05px;right:390.66px;top:243.68px;transform:translate(0,-50%);text-align:right;">73.621</div>
<div class="t " style="color:#222;font-size:6.05px;right:343.68px;top:243.68px;transform:translate(0,-50%);text-align:right;">0</div>
<div class="t " style="color:#222;font-size:6.05px;right:296.80px;top:243.68px;transform:translate(0,-50%);text-align:right;">73.621</div>
<div class="t " style="color:#222;font-size:6.05px;right:249.82px;top:243.68px;transform:translate(0,-50%);text-align:right;">128</div>
<div class="t " style="color:#222;font-size:6.05px;right:202.74px;top:243.68px;transform:translate(0,-50%);text-align:right;">650.079</div>
<div class="t " style="color:#222;font-size:6.05px;right:155.66px;top:243.68px;transform:translate(0,-50%);text-align:right;">1.089.612</div>
<div class="t " style="color:#222;font-size:6.05px;right:108.58px;top:243.68px;transform:translate(0,-50%);text-align:right;">452.120</div>
<div class="t " style="color:#222;font-size:6.05px;right:61.50px;top:243.68px;transform:translate(0,-50%);text-align:right;">1.541.732</div>
<div class="t " style="color:#222;font-size:6.05px;right:14.42px;top:243.68px;transform:translate(0,-50%);text-align:right;">4.886</div>
<div class="t " style="color:#222;font-size:5.7px;left:9.95px;top:251.84px;transform:translate(0,-50%);text-align:left;">P.A. Bolzano</div>
<div class="t " style="color:#222;font-size:6.05px;right:720.62px;top:251.84px;transform:translate(0,-50%);text-align:right;">14</div>
<div class="t " style="color:#222;font-size:6.05px;right:673.54px;top:251.84px;transform:translate(0,-50%);text-align:right;">4</div>
<div class="t " style="color:#222;font-size:6.05px;right:626.06px;top:251.84px;transform:translate(0,-50%);text-align:right;">0</div>
<div class="t " style="color:#222;font-size:6.05px;right:578.83px;top:251.84px;transform:translate(0,-50%);text-align:right;">844</div>
<div class="t " style="color:#222;font-size:6.05px;right:531.70px;top:251.84px;transform:translate(0,-50%);text-align:right;">862</div>
<div class="t " style="color:#222;font-size:6.05px;right:484.52px;top:251.84px;transform:translate(0,-50%);text-align:right;">70.505</div>
<div class="t " style="color:#222;font-size:6.05px;right:437.54px;top:251.84px;transform:translate(0,-50%);text-align:right;">1.172</div>
<div class="t " style="color:#222;font-size:6.05px;right:390.66px;top:251.84px;transform:translate(0,-50%);text-align:right;">59.348</div>
<div class="t " style="color:#222;font-size:6.05px;right:343.68px;top:251.84px;transform:translate(0,-50%);text-align:right;">13.191</div>
<div class="t " style="color:#222;font-size:6.05px;right:296.80px;top:251.84px;transform:translate(0,-50%);text-align:right;">72.539</div>
<div class="t " style="color:#222;font-size:6.05px;right:249.82px;top:251.84px;transform:translate(0,-50%);text-align:right;">43</div>
<div class="t " style="color:#222;font-size:6.05px;right:202.74px;top:251.84px;transform:translate(0,-50%);text-align:right;">412.013</div>
<div class="t " style="color:#222;font-size:6.05px;right:155.66px;top:251.84px;transform:translate(0,-50%);text-align:right;">572.110</div>
<div class="t " style="color:#222;font-size:6.05px;right:108.58px;top:251.84px;transform:translate(0,-50%);text-align:right;">936.758</div>
<div class="t " style="color:#222;font-size:6.05px;right:61.50px;top:251.84px;transform:translate(0,-50%);text-align:right;">1.508.868</div>
<div class="t " style="color:#222;font-size:6.05px;right:14.42px;top:251.84px;transform:translate(0,-50%);text-align:right;">8.709</div>
<div class="t " style="color:#222;font-size:5.7px;left:9.95px;top:259.99px;transform:translate(0,-50%);text-align:left;">Calabria</div>
<div class="t " style="color:#222;font-size:6.05px;right:720.62px;top:259.99px;transform:translate(0,-50%);text-align:right;">294</div>
<div class="t " style="color:#222;font-size:6.05px;right:673.54px;top:259.99px;transform:translate(0,-50%);text-align:right;">24</div>
<div class="t " style="color:#222;font-size:6.05px;right:626.06px;top:259.99px;transform:translate(0,-50%);text-align:right;">2</div>
<div class="t " style="color:#222;font-size:6.05px;right:578.83px;top:259.99px;transform:translate(0,-50%);text-align:right;">10.855</div>
<div class="t " style="color:#222;font-size:6.05px;right:531.70px;top:259.99px;transform:translate(0,-50%);text-align:right;">11.173</div>
<div class="t " style="color:#222;font-size:6.05px;right:484.52px;top:259.99px;transform:translate(0,-50%);text-align:right;">53.407</div>
<div class="t " style="color:#222;font-size:6.05px;right:437.54px;top:259.99px;transform:translate(0,-50%);text-align:right;">1.136</div>
<div class="t " style="color:#222;font-size:6.05px;right:390.66px;top:259.99px;transform:translate(0,-50%);text-align:right;">65.703</div>
<div class="t " style="color:#222;font-size:6.05px;right:343.68px;top:259.99px;transform:translate(0,-50%);text-align:right;">13</div>
<div class="t " style="color:#222;font-size:6.05px;right:296.80px;top:259.99px;transform:translate(0,-50%);text-align:right;">65.716</div>
<div class="t " style="color:#222;font-size:6.05px;right:249.82px;top:259.99px;transform:translate(0,-50%);text-align:right;">161</div>
<div class="t " style="color:#222;font-size:6.05px;right:202.74px;top:259.99px;transform:translate(0,-50%);text-align:right;">776.180</div>
<div class="t " style="color:#222;font-size:6.05px;right:155.66px;top:259.99px;transform:translate(0,-50%);text-align:right;">804.495</div>
<div class="t " style="color:#222;font-size:6.05px;right:108.58px;top:259.99px;transform:translate(0,-50%);text-align:right;">40.044</div>
<div class="t " style="color:#222;font-size:6.05px;right:61.50px;top:259.99px;transform:translate(0,-50%);text-align:right;">844.539</div>
<div class="t " style="color:#222;font-size:6.05px;right:14.42px;top:259.99px;transform:translate(0,-50%);text-align:right;">2.831</div>
<div class="t " style="color:#222;font-size:5.7px;left:9.95px;top:268.15px;transform:translate(0,-50%);text-align:left;">Sardegna</div>
<div class="t " style="color:#222;font-size:6.05px;right:720.62px;top:268.15px;transform:translate(0,-50%);text-align:right;">184</div>
<div class="t " style="color:#222;font-size:6.05px;right:673.54px;top:268.15px;transform:translate(0,-50%);text-align:right;">32</div>
<div class="t " style="color:#222;font-size:6.05px;right:626.06px;top:268.15px;transform:translate(0,-50%);text-align:right;">1</div>
<div class="t " style="color:#222;font-size:6.05px;right:578.83px;top:268.15px;transform:translate(0,-50%);text-align:right;">13.268</div>
<div class="t " style="color:#222;font-size:6.05px;right:531.70px;top:268.15px;transform:translate(0,-50%);text-align:right;">13.484</div>
<div class="t " style="color:#222;font-size:6.05px;right:484.52px;top:268.15px;transform:translate(0,-50%);text-align:right;">41.479</div>
<div class="t " style="color:#222;font-size:6.05px;right:437.54px;top:268.15px;transform:translate(0,-50%);text-align:right;">1.446</div>
<div class="t " style="color:#222;font-size:6.05px;right:390.66px;top:268.15px;transform:translate(0,-50%);text-align:right;">56.392</div>
<div class="t " style="color:#222;font-size:6.05px;right:343.68px;top:268.15px;transform:translate(0,-50%);text-align:right;">17</div>
<div class="t " style="color:#222;font-size:6.05px;right:296.80px;top:268.15px;transform:translate(0,-50%);text-align:right;">56.409</div>
<div class="t " style="color:#222;font-size:6.05px;right:249.82px;top:268.15px;transform:translate(0,-50%);text-align:right;">35</div>
<div class="t " style="color:#222;font-size:6.05px;right:202.74px;top:268.15px;transform:translate(0,-50%);text-align:right;">743.869</div>
<div class="t " style="color:#222;font-size:6.05px;right:155.66px;top:268.15px;transform:translate(0,-50%);text-align:right;">888.187</div>
<div class="t " style="color:#222;font-size:6.05px;right:108.58px;top:268.15px;transform:translate(0,-50%);text-align:right;">382.406</div>
<div class="t " style="color:#222;font-size:6.05px;right:61.50px;top:268.15px;transform:translate(0,-50%);text-align:right;">1.270.593</div>
<div class="t " style="color:#222;font-size:6.05px;right:14.42px;top:268.15px;transform:translate(0,-50%);text-align:right;">2.553</div>
<div class="t " style="color:#222;font-size:5.7px;left:9.95px;top:276.30px;transform:translate(0,-50%);text-align:left;">Umbria</div>
<div class="t " style="color:#222;font-size:6.05px;right:720.62px;top:276.30px;transform:translate(0,-50%);text-align:right;">80</div>
<div class="t " style="color:#222;font-size:6.05px;right:673.54px;top:276.30px;transform:translate(0,-50%);text-align:right;">12</div>
<div class="t " style="color:#222;font-size:6.05px;right:626.06px;top:276.30px;transform:translate(0,-50%);text-align:right;">1</div>
<div class="t " style="color:#222;font-size:6.05px;right:578.83px;top:276.30px;transform:translate(0,-50%);text-align:right;">1.938</div>
<div class="t " style="color:#222;font-size:6.05px;right:531.70px;top:276.30px;transform:translate(0,-50%);text-align:right;">2.030</div>
<div class="t " style="color:#222;font-size:6.05px;right:484.52px;top:276.30px;transform:translate(0,-50%);text-align:right;">52.643</div>
<div class="t " style="color:#222;font-size:6.05px;right:437.54px;top:276.30px;transform:translate(0,-50%);text-align:right;">1.388</div>
<div class="t " style="color:#222;font-size:6.05px;right:390.66px;top:276.30px;transform:translate(0,-50%);text-align:right;">56.061</div>
<div class="t " style="color:#222;font-size:6.05px;right:343.68px;top:276.30px;transform:translate(0,-50%);text-align:right;">0</div>
<div class="t " style="color:#222;font-size:6.05px;right:296.80px;top:276.30px;transform:translate(0,-50%);text-align:right;">56.061</div>
<div class="t " style="color:#222;font-size:6.05px;right:249.82px;top:276.30px;transform:translate(0,-50%);text-align:right;">36</div>
<div class="t " style="color:#222;font-size:6.05px;right:202.74px;top:276.30px;transform:translate(0,-50%);text-align:right;">372.406</div>
<div class="t " style="color:#222;font-size:6.05px;right:155.66px;top:276.30px;transform:translate(0,-50%);text-align:right;">909.162</div>
<div class="t " style="color:#222;font-size:6.05px;right:108.58px;top:276.30px;transform:translate(0,-50%);text-align:right;">389.999</div>
<div class="t " style="color:#222;font-size:6.05px;right:61.50px;top:276.30px;transform:translate(0,-50%);text-align:right;">1.299.161</div>
<div class="t " style="color:#222;font-size:6.05px;right:14.42px;top:276.30px;transform:translate(0,-50%);text-align:right;">5.929</div>
<div class="t " style="color:#222;font-size:5.7px;left:9.95px;top:284.46px;transform:translate(0,-50%);text-align:left;">P.A. Trento</div>
<div class="t " style="color:#222;font-size:6.05px;right:720.62px;top:284.46px;transform:translate(0,-50%);text-align:right;">32</div>
<div class="t " style="color:#222;font-size:6.05px;right:673.54px;top:284.46px;transform:translate(0,-50%);text-align:right;">13</div>
<div class="t " style="color:#222;font-size:6.05px;right:626.06px;top:284.46px;transform:translate(0,-50%);text-align:right;">1</div>
<div class="t " style="color:#222;font-size:6.05px;right:578.83px;top:284.46px;transform:translate(0,-50%);text-align:right;">566</div>
<div class="t " style="color:#222;font-size:6.05px;right:531.70px;top:284.46px;transform:translate(0,-50%);text-align:right;">611</div>
<div class="t " style="color:#222;font-size:6.05px;right:484.52px;top:284.46px;transform:translate(0,-50%);text-align:right;">43.161</div>
<div class="t " style="color:#222;font-size:6.05px;right:437.54px;top:284.46px;transform:translate(0,-50%);text-align:right;">1.354</div>
<div class="t " style="color:#222;font-size:6.05px;right:390.66px;top:284.46px;transform:translate(0,-50%);text-align:right;">32.481</div>
<div class="t " style="color:#222;font-size:6.05px;right:343.68px;top:284.46px;transform:translate(0,-50%);text-align:right;">12.645</div>
<div class="t " style="color:#222;font-size:6.05px;right:296.80px;top:284.46px;transform:translate(0,-50%);text-align:right;">45.126</div>
<div class="t " style="color:#222;font-size:6.05px;right:249.82px;top:284.46px;transform:translate(0,-50%);text-align:right;">24</div>
<div class="t " style="color:#222;font-size:6.05px;right:202.74px;top:284.46px;transform:translate(0,-50%);text-align:right;">208.619</div>
<div class="t " style="color:#222;font-size:6.05px;right:155.66px;top:284.46px;transform:translate(0,-50%);text-align:right;">657.939</div>
<div class="t " style="color:#222;font-size:6.05px;right:108.58px;top:284.46px;transform:translate(0,-50%);text-align:right;">149.860</div>
<div class="t " style="color:#222;font-size:6.05px;right:61.50px;top:284.46px;transform:translate(0,-50%);text-align:right;">807.799</div>
<div class="t " style="color:#222;font-size:6.05px;right:14.42px;top:284.46px;transform:translate(0,-50%);text-align:right;">2.393</div>
<div class="t " style="color:#222;font-size:5.7px;left:9.95px;top:292.61px;transform:translate(0,-50%);text-align:left;">Basilicata</div>
<div class="t " style="color:#222;font-size:6.05px;right:720.62px;top:292.61px;transform:translate(0,-50%);text-align:right;">84</div>
<div class="t " style="color:#222;font-size:6.05px;right:673.54px;top:292.61px;transform:translate(0,-50%);text-align:right;">5</div>
<div class="t " style="color:#222;font-size:6.05px;right:626.06px;top:292.61px;transform:translate(0,-50%);text-align:right;">0</div>
<div class="t " style="color:#222;font-size:6.05px;right:578.83px;top:292.61px;transform:translate(0,-50%);text-align:right;">4.453</div>
<div class="t " style="color:#222;font-size:6.05px;right:531.70px;top:292.61px;transform:translate(0,-50%);text-align:right;">4.542</div>
<div class="t " style="color:#222;font-size:6.05px;right:484.52px;top:292.61px;transform:translate(0,-50%);text-align:right;">20.865</div>
<div class="t " style="color:#222;font-size:6.05px;right:437.54px;top:292.61px;transform:translate(0,-50%);text-align:right;">570</div>
<div class="t " style="color:#222;font-size:6.05px;right:390.66px;top:292.61px;transform:translate(0,-50%);text-align:right;">25.977</div>
<div class="t " style="color:#222;font-size:6.05px;right:343.68px;top:292.61px;transform:translate(0,-50%);text-align:right;">0</div>
<div class="t " style="color:#222;font-size:6.05px;right:296.80px;top:292.61px;transform:translate(0,-50%);text-align:right;">25.977</div>
<div class="t " style="color:#222;font-size:6.05px;right:249.82px;top:292.61px;transform:translate(0,-50%);text-align:right;">67</div>
<div class="t " style="color:#222;font-size:6.05px;right:202.74px;top:292.61px;transform:translate(0,-50%);text-align:right;">199.999</div>
<div class="t " style="color:#222;font-size:6.05px;right:155.66px;top:292.61px;transform:translate(0,-50%);text-align:right;">349.855</div>
<div class="t " style="color:#222;font-size:6.05px;right:108.58px;top:292.61px;transform:translate(0,-50%);text-align:right;">15.501</div>
<div class="t " style="color:#222;font-size:6.05px;right:61.50px;top:292.61px;transform:translate(0,-50%);text-align:right;">365.356</div>
<div class="t " style="color:#222;font-size:6.05px;right:14.42px;top:292.61px;transform:translate(0,-50%);text-align:right;">1.244</div>
<div class="t " style="color:#222;font-size:5.7px;left:9.95px;top:300.77px;transform:translate(0,-50%);text-align:left;">Molise</div>
<div class="t " style="color:#222;font-size:6.05px;right:720.62px;top:300.77px;transform:translate(0,-50%);text-align:right;">15</div>
<div class="t " style="color:#222;font-size:6.05px;right:673.54px;top:300.77px;transform:translate(0,-50%);text-align:right;">5</div>
<div class="t " style="color:#222;font-size:6.05px;right:626.06px;top:300.77px;transform:translate(0,-50%);text-align:right;">0</div>
<div class="t " style="color:#222;font-size:6.05px;right:578.83px;top:300.77px;transform:translate(0,-50%);text-align:right;">203</div>
<div class="t " style="color:#222;font-size:6.05px;right:531.70px;top:300.77px;transform:translate(0,-50%);text-align:right;">223</div>
<div class="t " style="color:#222;font-size:6.05px;right:484.52px;top:300.77px;transform:translate(0,-50%);text-align:right;">12.836</div>
<div class="t " style="color:#222;font-size:6.05px;right:437.54px;top:300.77px;transform:translate(0,-50%);text-align:right;">488</div>
<div class="t " style="color:#222;font-size:6.05px;right:390.66px;top:300.77px;transform:translate(0,-50%);text-align:right;">13.547</div>
<div class="t " style="color:#222;font-size:6.05px;right:343.68px;top:300.77px;transform:translate(0,-50%);text-align:right;">0</div>
<div class="t " style="color:#222;font-size:6.05px;right:296.80px;top:300.77px;transform:translate(0,-50%);text-align:right;">13.547</div>
<div class="t " style="color:#222;font-size:6.05px;right:249.82px;top:300.77px;transform:translate(0,-50%);text-align:right;">3</div>
<div class="t " style="color:#222;font-size:6.05px;right:202.74px;top:300.77px;transform:translate(0,-50%);text-align:right;">193.642</div>
<div class="t " style="color:#222;font-size:6.05px;right:155.66px;top:300.77px;transform:translate(0,-50%);text-align:right;">213.382</div>
<div class="t " style="color:#222;font-size:6.05px;right:108.58px;top:300.77px;transform:translate(0,-50%);text-align:right;">12.819</div>
<div class="t " style="color:#222;font-size:6.05px;right:61.50px;top:300.77px;transform:translate(0,-50%);text-align:right;">226.201</div>
<div class="t " style="color:#222;font-size:6.05px;right:14.42px;top:300.77px;transform:translate(0,-50%);text-align:right;">382</div>
<div class="t " style="color:#222;font-size:5.7px;left:9.95px;top:308.92px;transform:translate(0,-50%);text-align:left;">Valle d&#x27;Aosta</div>
<div class="t " style="color:#222;font-size:6.05px;right:720.62px;top:308.92px;transform:translate(0,-50%);text-align:right;">18</div>
<div class="t " style="color:#222;font-size:6.05px;right:673.54px;top:308.92px;transform:translate(0,-50%);text-align:right;">0</div>
<div class="t " style="color:#222;font-size:6.05px;right:626.06px;top:308.92px;transform:translate(0,-50%);text-align:right;">0</div>
<div class="t " style="color:#222;font-size:6.05px;right:578.83px;top:308.92px;transform:translate(0,-50%);text-align:right;">297</div>
<div class="t " style="color:#222;font-size:6.05px;right:531.70px;top:308.92px;transform:translate(0,-50%);text-align:right;">315</div>
<div class="t " style="color:#222;font-size:6.05px;right:484.52px;top:308.92px;transform:translate(0,-50%);text-align:right;">10.698</div>
<div class="t " style="color:#222;font-size:6.05px;right:437.54px;top:308.92px;transform:translate(0,-50%);text-align:right;">471</div>
<div class="t " style="color:#222;font-size:6.05px;right:390.66px;top:308.92px;transform:translate(0,-50%);text-align:right;">10.856</div>
<div class="t " style="color:#222;font-size:6.05px;right:343.68px;top:308.92px;transform:translate(0,-50%);text-align:right;">628</div>
<div class="t " style="color:#222;font-size:6.05px;right:296.80px;top:308.92px;transform:translate(0,-50%);text-align:right;">11.484</div>
<div class="t " style="color:#222;font-size:6.05px;right:249.82px;top:308.92px;transform:translate(0,-50%);text-align:right;">28</div>
<div class="t " style="color:#222;font-size:6.05px;right:202.74px;top:308.92px;transform:translate(0,-50%);text-align:right;">61.681</div>
<div class="t " style="color:#222;font-size:6.05px;right:155.66px;top:308.92px;transform:translate(0,-50%);text-align:right;">95.336</div>
<div class="t " style="color:#222;font-size:6.05px;right:108.58px;top:308.92px;transform:translate(0,-50%);text-align:right;">31.082</div>
<div class="t " style="color:#222;font-size:6.05px;right:61.50px;top:308.92px;transform:translate(0,-50%);text-align:right;">126.418</div>
<div class="t " style="color:#222;font-size:6.05px;right:14.42px;top:308.92px;transform:translate(0,-50%);text-align:right;">672</div>
<div class="t s" style="color:#111;font-weight:bold;font-size:5.0px;left:45.90px;top:318.93px;transform:translate(-50%,-50%);text-align:center;">TOTALE</div>
<div class="t s" style="color:#222;font-weight:bold;font-size:6.05px;right:720.82px;top:318.93px;transform:translate(0,-50%);text-align:right;">9.488</div>
<div class="t s" style="color:#222;font-weight:bold;font-size:6.05px;right:673.74px;top:318.93px;transform:translate(0,-50%);text-align:right;">1.430</div>
<div class="t s" style="color:#222;font-weight:bold;font-size:6.05px;right:626.26px;top:318.93px;transform:translate(0,-50%);text-align:right;">64</div>
<div class="t s" style="color:#222;font-weight:bold;font-size:6.05px;right:579.03px;top:318.93px;transform:translate(0,-50%);text-align:right;">272.826</div>
<div class="t s" style="color:#222;font-weight:bold;font-size:6.05px;right:531.90px;top:318.93px;transform:translate(0,-50%);text-align:right;">283.744</div>
<div class="t s" style="color:#0a3d1e;font-weight:bold;font-size:6.05px;right:484.72px;top:318.93px;transform:translate(0,-50%);text-align:right;">3.779.293</div>
<div class="t s" style="color:#5a0000;font-weight:bold;font-size:6.05px;right:437.74px;top:318.93px;transform:translate(0,-50%);text-align:right;">125.153</div>
<div class="t s" style="color:#3d2a00;font-weight:bold;font-size:6.05px;right:390.86px;top:318.93px;transform:translate(0,-50%);text-align:right;">4.040.695</div>
<div class="t s" style="color:#3d2a00;font-weight:bold;font-size:6.05px;right:343.88px;top:318.93px;transform:translate(0,-50%);text-align:right;">147.495</div>
<div class="t s" style="color:#3d2a00;font-weight:bold;font-size:6.05px;right:297.00px;top:318.93px;transform:translate(0,-50%);text-align:right;">4.188.190</div>
<div class="t s" style="color:#3d2a00;font-weight:bold;font-size:6.05px;right:250.02px;top:318.93px;transform:translate(0,-50%);text-align:right;">4.717</div>
<div class="t s" style="color:#0b2a55;font-weight:bold;font-size:6.05px;right:202.94px;top:318.93px;transform:translate(0,-50%);text-align:right;">27.568.979</div>
<div class="t s" style="color:#2a3350;font-weight:bold;font-size:6.05px;right:155.86px;top:318.93px;transform:translate(0,-50%);text-align:right;">48.308.709</div>
<div class="t s" style="color:#2a3350;font-weight:bold;font-size:6.05px;right:108.78px;top:318.93px;transform:translate(0,-50%);text-align:right;">16.070.386</div>
<div class="t s" style="color:#2a3350;font-weight:bold;font-size:6.05px;right:61.70px;top:318.93px;transform:translate(0,-50%);text-align:right;">64.379.095</div>
<div class="t s" style="color:#222;font-weight:bold;font-size:6.05px;right:14.62px;top:318.93px;transform:translate(0,-50%);text-align:right;">286.603</div>
<div class="t " style="color:#222;font-size:5.6px;left:10.40px;top:339.00px;transform:translate(0,-50%);text-align:left;">Note:</div>
<div class="t n" id="n0" style="left:10.4px;top:353.60px;font-size:4.55px;color:#111;transform-origin:0 50%;transform:translate(0,-50%);">La regione Abruzzo comunica che il totale dei nuovi positivi di oggi comprende 45 casi relativi ai giorni precedenti e che dal totale dei deceduti &egrave; stato eliminato un caso in quanto conteggiato per errore.</div>
<div class="t n" id="n1" style="left:10.4px;top:359.00px;font-size:4.55px;color:#111;transform-origin:0 50%;transform:translate(0,-50%) scaleX(0.911);">LA REGIONE CAMPANIA COMUNICA CHE DEL TOTALE DI 29 DECEDUTI COMUNICATI IN DATA ODIERNA, 24 SI EVINCONO DA APPROFONDITA VERIFICA EFFETTUATA DALLE A.S.L. E SI RIFERISCONO AI MESI PRECEDENTI.</div>
<div class="t n" id="n2" style="left:10.4px;top:364.00px;font-size:4.55px;color:#111;transform-origin:0 50%;transform:translate(0,-50%);">La regione Emilia-Romagna comunica che dal totale dei positivi sono stati eliminati 3 casi dichiarati nei giorni precedenti: 1 positivo al test antigenico ma non confermato da test molecolare e 2 giudicati non casi COVID-19.</div>
<div class="t n" id="n3" style="left:10.4px;top:368.90px;font-size:4.55px;color:#111;transform-origin:0 50%;transform:translate(0,-50%);">La P.A. di Bolzano comunica che tra i 43 nuovi casi, 8 derivano da test antigenici successivamente confermati da PCR.</div>
<div class="t n" id="n4" style="left:10.4px;top:374.00px;font-size:4.55px;color:#111;transform-origin:0 50%;transform:translate(0,-50%);">La regione Veneto comunica che alcuni casi confermati da test antigenico essendo stati successivamente confermati da test molecolare sono stati riclassificati tra quest'ultimi.</div>
</div></body></html>
